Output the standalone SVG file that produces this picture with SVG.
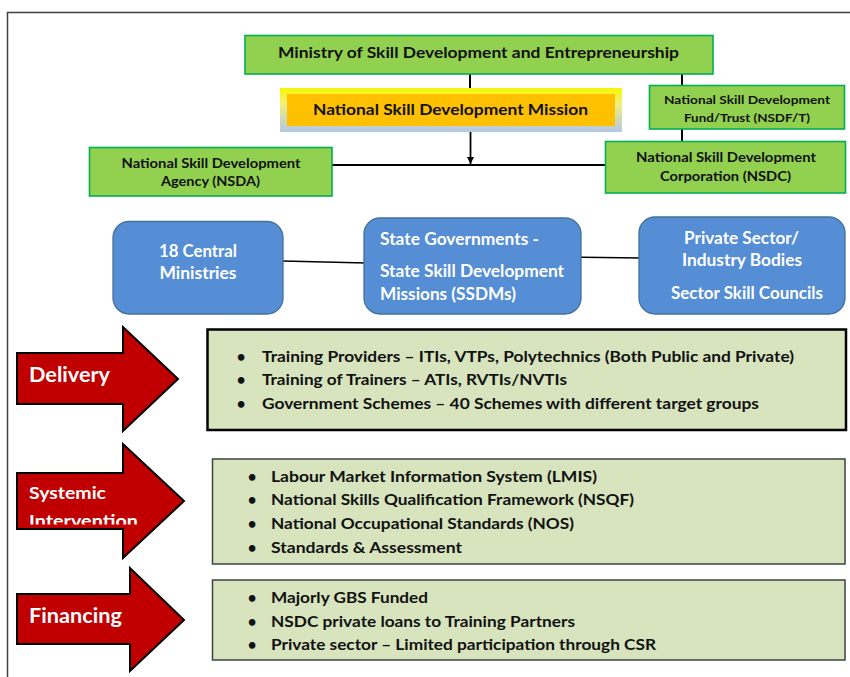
<svg xmlns="http://www.w3.org/2000/svg" width="850" height="677" viewBox="0 0 850 677">
<style>
text{font-family:Lato,"Open Sans","DejaVu Sans",sans-serif;font-weight:bold}
.dk{fill:#111}
.wh{fill:#fff}
.g1{fill:#92D050;stroke:#00B050;stroke-width:1.6}
.blue{fill:#558ED5;stroke:#41719C;stroke-width:1.3}
.arr{fill:#C00000;stroke:#000;stroke-width:2}
.lst{fill:#D7E4BD}
.ln{stroke:#000;fill:none}
.mid{text-anchor:middle}
</style>
<defs>
<linearGradient id="glow" x1="0" y1="0" x2="0" y2="1">
<stop offset="0" stop-color="#F7F700"/>
<stop offset="0.35" stop-color="#F2F07A"/>
<stop offset="1" stop-color="#B4C7E7"/>
</linearGradient>
<marker id="ah" viewBox="0 0 10 10" refX="10" refY="5" markerWidth="7" markerHeight="7" orient="auto" markerUnits="userSpaceOnUse">
<path d="M0,0 L10,5 L0,10 z" fill="#000"/>
</marker>
<clipPath id="clipInt"><rect x="0" y="440" width="200" height="84.5"/></clipPath>
</defs>
<rect width="850" height="677" fill="#fff"/>
<path d="M7.5,677 V12.5 H850" fill="none" stroke="#404040" stroke-width="1.5"/>

<g id="connectors">
<line class="ln" x1="470" y1="74" x2="470" y2="88" stroke-width="2"/>
<line class="ln" x1="470.5" y1="132" x2="470.5" y2="164" stroke-width="1.8" marker-end="url(#ah)"/>
<line class="ln" x1="332" y1="165" x2="605" y2="165" stroke-width="2"/>
<line class="ln" x1="682" y1="74" x2="682" y2="85" stroke-width="2"/>
<line class="ln" x1="682" y1="129" x2="682" y2="141" stroke-width="2"/>
<line class="ln" x1="283" y1="261" x2="366" y2="263" stroke-width="1.5"/>
<line class="ln" x1="562" y1="257" x2="642" y2="258" stroke-width="1.5"/>
</g>

<g id="ministry">
<rect class="g1" x="245" y="35.5" width="468" height="38.5" stroke-width="2.5"/>
<text class="dk mid" x="478.5" y="58.3" font-size="16" textLength="401" lengthAdjust="spacingAndGlyphs">Ministry of Skill Development and Entrepreneurship</text>
</g>

<g id="nsdm">
<rect x="280" y="88" width="342" height="44" fill="url(#glow)"/>
<rect x="287" y="94" width="328" height="32" fill="#FFC000"/>
<text class="dk mid" x="450.5" y="115" font-size="16" textLength="275" lengthAdjust="spacingAndGlyphs">National Skill Development Mission</text>
</g>

<g id="nsda">
<rect class="g1" x="89.5" y="147.5" width="242.5" height="48.5"/>
<text class="dk mid" x="211" y="167.5" font-size="14" textLength="179" lengthAdjust="spacingAndGlyphs">National Skill Development</text>
<text class="dk mid" x="210.5" y="186" font-size="14" textLength="99" lengthAdjust="spacingAndGlyphs">Agency (NSDA)</text>
</g>

<g id="nsdf">
<rect class="g1" x="649.5" y="85.5" width="195" height="43.5"/>
<text class="dk mid" x="747" y="104.3" font-size="12" textLength="166" lengthAdjust="spacingAndGlyphs">National Skill Development</text>
<text class="dk mid" x="747" y="122.3" font-size="12" textLength="126" lengthAdjust="spacingAndGlyphs">Fund/Trust (NSDF/T)</text>
</g>

<g id="nsdc">
<rect class="g1" x="605.5" y="141.5" width="240" height="51.5"/>
<text class="dk mid" x="726" y="161.7" font-size="14" textLength="180" lengthAdjust="spacingAndGlyphs">National Skill Development</text>
<text class="dk mid" x="725.5" y="181" font-size="14" textLength="131" lengthAdjust="spacingAndGlyphs">Corporation (NSDC)</text>
</g>

<g id="central">
<rect class="blue" x="113" y="221.5" width="170" height="92.5" rx="16"/>
<text class="wh mid" x="198" y="257.3" font-size="16.5" textLength="78" lengthAdjust="spacingAndGlyphs">18 Central</text>
<text class="wh mid" x="198" y="279" font-size="16.5" textLength="77" lengthAdjust="spacingAndGlyphs">Ministries</text>
</g>

<g id="state">
<rect class="blue" x="364" y="218" width="217" height="96" rx="16"/>
<text class="wh" x="380" y="245" font-size="16.5" textLength="159" lengthAdjust="spacingAndGlyphs">State Governments -</text>
<text class="wh" x="380" y="276.7" font-size="16.5" textLength="184" lengthAdjust="spacingAndGlyphs">State Skill Development</text>
<text class="wh" x="380" y="300" font-size="16.5" textLength="136" lengthAdjust="spacingAndGlyphs">Missions (SSDMs)</text>
</g>

<g id="private">
<rect class="blue" x="639" y="217" width="206" height="97" rx="16"/>
<text class="wh mid" x="741.5" y="244.3" font-size="16.5" textLength="115" lengthAdjust="spacingAndGlyphs">Private Sector/</text>
<text class="wh mid" x="742" y="266" font-size="16.5" textLength="120" lengthAdjust="spacingAndGlyphs">Industry Bodies</text>
<text class="wh mid" x="747" y="299" font-size="16.5" textLength="152" lengthAdjust="spacingAndGlyphs">Sector Skill Councils</text>
</g>

<g id="delivery-arrow">
<polygon class="arr" points="17,353 123,353 123,327 178,379 123,431 123,404 17,404"/>
<text class="wh" x="29" y="382" font-size="21" textLength="81" lengthAdjust="spacingAndGlyphs">Delivery</text>
</g>

<g id="delivery-list">
<rect class="lst" x="207.5" y="329.5" width="638.5" height="100.5" stroke="#000" stroke-width="2.5"/>
<text class="dk mid" x="241" y="362.3" font-size="15">•</text>
<text class="dk mid" x="241" y="385" font-size="15">•</text>
<text class="dk mid" x="241" y="409" font-size="15">•</text>
<text class="dk" x="262" y="362.3" font-size="15" textLength="532" lengthAdjust="spacingAndGlyphs">Training Providers – ITIs, VTPs, Polytechnics (Both Public and Private)</text>
<text class="dk" x="262" y="385" font-size="15" textLength="305" lengthAdjust="spacingAndGlyphs">Training of Trainers – ATIs, RVTIs/NVTIs</text>
<text class="dk" x="262" y="409" font-size="15" textLength="497" lengthAdjust="spacingAndGlyphs">Government Schemes – 40 Schemes with different target groups</text>
</g>

<g id="systemic-arrow">
<polygon class="arr" points="17,473 123,473 123,444 184,501 123,558 123,529 17,529"/>
<text class="wh" x="29" y="499" font-size="17.5" textLength="77" lengthAdjust="spacingAndGlyphs">Systemic</text>
<text class="wh" x="29" y="527" font-size="17.5" textLength="109" lengthAdjust="spacingAndGlyphs" clip-path="url(#clipInt)">Intervention</text>
</g>

<g id="systemic-list">
<rect class="lst" x="212.5" y="459" width="632.5" height="105" stroke="#404040" stroke-width="1.5"/>
<text class="dk mid" x="252" y="481.7" font-size="15">•</text>
<text class="dk mid" x="252" y="505" font-size="15">•</text>
<text class="dk mid" x="252" y="528.7" font-size="15">•</text>
<text class="dk mid" x="252" y="552.7" font-size="15">•</text>
<text class="dk" x="271" y="481.7" font-size="15" textLength="326" lengthAdjust="spacingAndGlyphs">Labour Market Information System (LMIS)</text>
<text class="dk" x="271" y="505" font-size="15" textLength="363" lengthAdjust="spacingAndGlyphs">National Skills Qualification Framework (NSQF)</text>
<text class="dk" x="271" y="528.7" font-size="15" textLength="303" lengthAdjust="spacingAndGlyphs">National Occupational Standards (NOS)</text>
<text class="dk" x="271" y="552.7" font-size="15" textLength="191" lengthAdjust="spacingAndGlyphs">Standards &amp; Assessment</text>
</g>

<g id="financing-arrow">
<polygon class="arr" points="17,594 130,594 130,568 184,620 130,671 130,644 17,644"/>
<text class="wh" x="29" y="622.7" font-size="21" textLength="93" lengthAdjust="spacingAndGlyphs">Financing</text>
</g>

<g id="financing-list">
<rect class="lst" x="212.5" y="580" width="632.5" height="80" stroke="#404040" stroke-width="1.5"/>
<text class="dk mid" x="252" y="603.3" font-size="15">•</text>
<text class="dk mid" x="252" y="626.7" font-size="15">•</text>
<text class="dk mid" x="252" y="650" font-size="15">•</text>
<text class="dk" x="271" y="603.3" font-size="15" textLength="157" lengthAdjust="spacingAndGlyphs">Majorly GBS Funded</text>
<text class="dk" x="271" y="626.7" font-size="15" textLength="304" lengthAdjust="spacingAndGlyphs">NSDC private loans to Training Partners</text>
<text class="dk" x="271" y="650" font-size="15" textLength="385" lengthAdjust="spacingAndGlyphs">Private sector – Limited participation through CSR</text>
</g>
</svg>
